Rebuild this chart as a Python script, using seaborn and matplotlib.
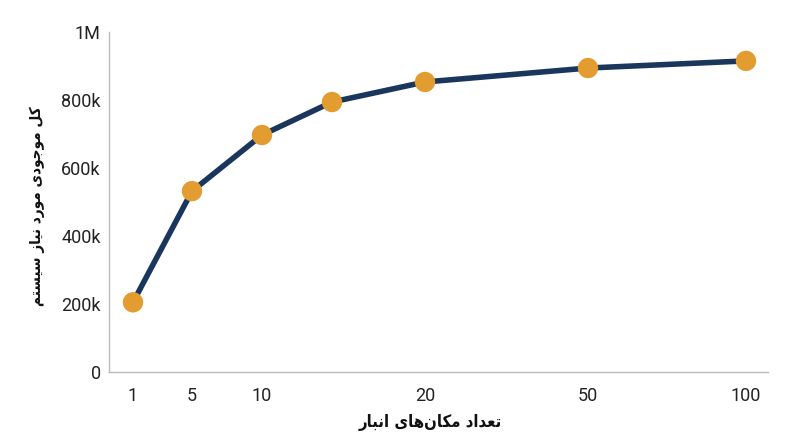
import numpy as np
import pandas as pd
import matplotlib
matplotlib.use("Agg")
import matplotlib.pyplot as plt
import seaborn as sns

# ---- data ----
warehouses = [1, 5, 10, 15, 20, 50, 100]
inventory = [205000, 532000, 697000, 794000, 853000, 894000, 915000]
x_ticks = [1, 5, 10, 20, 50, 100]
x_tick_labels = ["1", "5", "10", "20", "50", "100"]
y_ticks = [0, 200000, 400000, 600000, 800000, 1000000]
y_tick_labels = ["0", "200k", "400k", "600k", "800k", "1M"]
x_title = "تعداد مکان‌های انبار"
y_title = "کل موجودی مورد نیاز سیستم"

# ---- simple Arabic/Persian shaping (presentation forms) ----
FORMS = {  # iso, fin, init, med (None for right-joining letters)
    "\u0627": ("\uFE8D", "\uFE8E", None, None),
    "\u0628": ("\uFE8F", "\uFE90", "\uFE91", "\uFE92"),
    "\u062A": ("\uFE95", "\uFE96", "\uFE97", "\uFE98"),
    "\u062C": ("\uFE9D", "\uFE9E", "\uFE9F", "\uFEA0"),
    "\u062F": ("\uFEA9", "\uFEAA", None, None),
    "\u0631": ("\uFEAD", "\uFEAE", None, None),
    "\u0632": ("\uFEAF", "\uFEB0", None, None),
    "\u0633": ("\uFEB1", "\uFEB2", "\uFEB3", "\uFEB4"),
    "\u0639": ("\uFEC9", "\uFECA", "\uFECB", "\uFECC"),
    "\u0644": ("\uFEDD", "\uFEDE", "\uFEDF", "\uFEE0"),
    "\u0645": ("\uFEE1", "\uFEE2", "\uFEE3", "\uFEE4"),
    "\u0646": ("\uFEE5", "\uFEE6", "\uFEE7", "\uFEE8"),
    "\u0647": ("\uFEE9", "\uFEEA", "\uFEEB", "\uFEEC"),
    "\u0648": ("\uFEED", "\uFEEE", None, None),
    "\u06CC": ("\uFBFC", "\uFBFD", "\uFBFE", "\uFBFF"),
    "\u06A9": ("\uFB8E", "\uFB8F", "\uFB90", "\uFB91"),
}


def shape(text):
    chars = list(text)
    out = []
    for i, c in enumerate(chars):
        if c not in FORMS:
            if c == "\u200c":
                continue
            out.append(c)
            continue
        prev = chars[i - 1] if i > 0 else None
        nxt = chars[i + 1] if i + 1 < len(chars) else None
        dual = FORMS[c][2] is not None
        jp = prev in FORMS and FORMS[prev][2] is not None
        jn = dual and nxt in FORMS
        iso, fin, ini, med = FORMS[c]
        if jp and jn:
            out.append(med)
        elif jp:
            out.append(fin)
        elif jn:
            out.append(ini)
        else:
            out.append(iso)
    return "".join(out[::-1])


# ---- custom x scale ----
XV = np.array([1, 5, 10, 15, 20, 50, 100], float)
XP = np.array([133, 192, 262, 332, 425, 588, 746], float)


def _pl(v, a, b):
    v = np.asarray(v, float)
    out = np.interp(v, a, b)
    sl = (b[1] - b[0]) / (a[1] - a[0])
    sr = (b[-1] - b[-2]) / (a[-1] - a[-2])
    out = np.where(v < a[0], b[0] + (v - a[0]) * sl, out)
    out = np.where(v > a[-1], b[-1] + (v - a[-1]) * sr, out)
    return out


def fwd(v):
    return _pl(v, XV, XP)


def inv(p):
    return _pl(p, XP, XV)


sns.set_theme(style="white")
plt.rcParams["font.family"] = ["Roboto", "DejaVu Sans"]

fig = plt.figure(figsize=(8, 4.47), dpi=100)
ax = fig.add_axes([109 / 800, 1 - 372 / 447, (768 - 109) / 800, (372 - 32) / 447])
ax.set_xscale("function", functions=(fwd, inv))

df = pd.DataFrame({"x": warehouses, "y": inventory})
sns.lineplot(data=df, x="x", y="y", ax=ax, color="#1B365D", linewidth=4,
             solid_capstyle="round", zorder=2)
sns.scatterplot(data=df, x="x", y="y", ax=ax, color="#E39C30", s=215,
                edgecolor="none", zorder=3)

ax.set_xlim(float(inv(109)), float(inv(768)))
ax.set_ylim(0, 1000000)
ax.set_xticks(x_ticks)
ax.set_xticklabels(x_tick_labels)
ax.set_yticks(y_ticks)
ax.set_yticklabels(y_tick_labels)
ax.minorticks_off()
ax.tick_params(axis="both", length=0, labelsize=13, colors="#222222")
ax.tick_params(axis="x", pad=11)
ax.tick_params(axis="y", pad=6)

for s in ["top", "right"]:
    ax.spines[s].set_visible(False)
for s in ["left", "bottom"]:
    ax.spines[s].set_color("#BBBBBB")
    ax.spines[s].set_linewidth(1.0)

ax.set_xlabel(shape(x_title), fontsize=12, fontweight="bold",
              fontstretch="condensed",
              family=["DejaVu Sans"], color="#111111")
ax.set_ylabel(shape(y_title), fontsize=11, fontweight="bold",
              fontstretch="condensed",
              family=["DejaVu Sans"], color="#111111")
ax.xaxis.set_label_coords(0.487, -0.12)
ax.yaxis.set_label_coords(-0.097, 0.488)

fig.savefig("out.png", dpi=100, facecolor="white")
